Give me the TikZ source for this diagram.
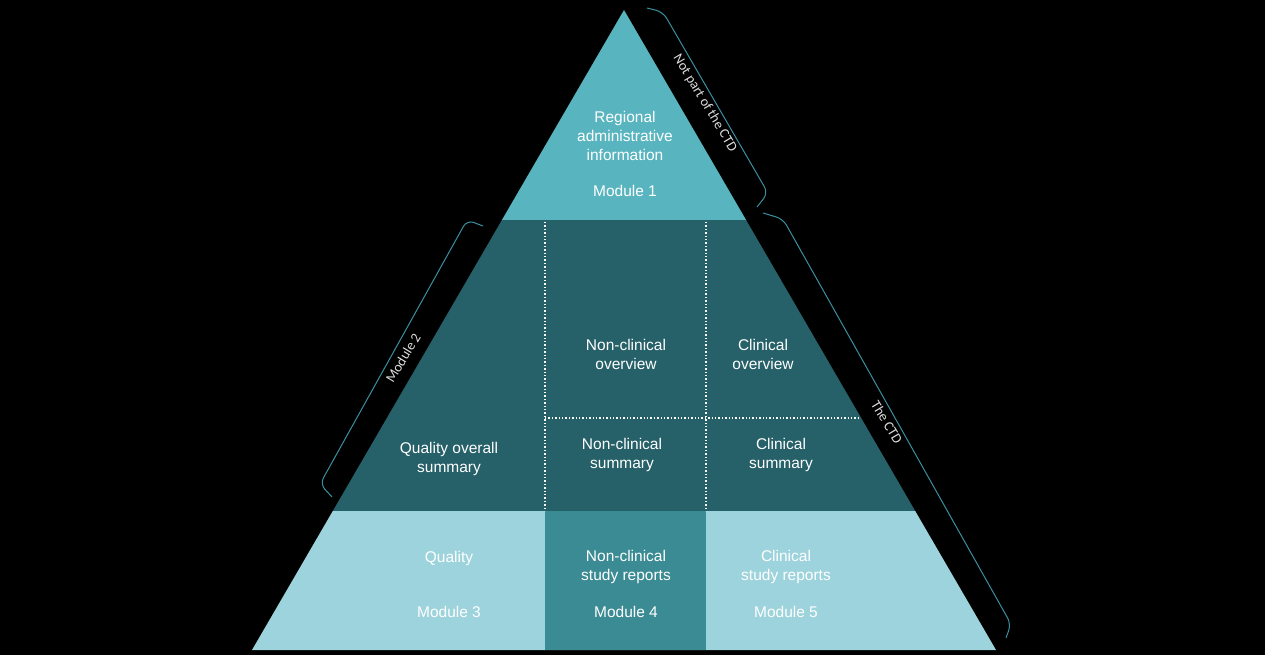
\documentclass[tikz,border=0pt]{standalone}
\usepackage{fontspec}
\setmainfont{Liberation Sans}
\newfontfamily\brfont{Carlito}
\definecolor{mone}{HTML}{58B5C0}
\definecolor{mtwo}{HTML}{266068}
\definecolor{mlight}{HTML}{9DD3DC}
\definecolor{mfour}{HTML}{3A8B93}
\definecolor{brcol}{HTML}{3B8FA0}
\definecolor{brtext}{HTML}{DDDDDD}
\begin{document}
\begin{tikzpicture}[x=1pt,y=-1pt,
  lbl/.style={text=white,align=center,font=\fontsize{15.5}{19}\selectfont,inner sep=0pt},
  brlbl/.style={text=brtext,font=\brfont\fontsize{14}{16}\selectfont,inner sep=0pt},
  bracket/.style={draw=brcol,line width=1pt,rounded corners=7pt},
  divider/.style={draw=white,line width=1.4pt,dotted}]
\fill[black] (0,0) rectangle (1265,655);
\useasboundingbox (0,0) rectangle (1265,655);
% pyramid
\coordinate (apex) at (624,10);
\coordinate (l1) at (501.9,220);
\coordinate (r1) at (746.1,220);
\coordinate (l2) at (332.8,511);
\coordinate (r2) at (915.2,511);
\coordinate (l3) at (252,650);
\coordinate (r3) at (996,650);
\fill[mone] (apex) -- (r1) -- (l1) -- cycle;
\fill[mtwo] (l1) -- (r1) -- (r2) -- (l2) -- cycle;
\fill[mlight] (l2) -- (r2) -- (r3) -- (l3) -- cycle;
\fill[mfour] (545,511) rectangle (706,650);
% dividers
\coordinate (va1) at (545,222);
\coordinate (va2) at (545,511);
\coordinate (vb1) at (706,222);
\coordinate (vb2) at (706,511);
\coordinate (ha1) at (545,418);
\coordinate (ha2) at (860,418);
\draw[divider] (va1) -- (va2);
\draw[divider] (vb1) -- (vb2);
\draw[divider] (ha1) -- (ha2);
% labels
\node[lbl] (m1t) at (625,136) {Regional\\administrative\\information};
\node[lbl] (m1) at (625,191) {Module 1};
\node[lbl] (nco) at (626,354) {Non-clinical\\overview};
\node[lbl] (co) at (763,354) {Clinical\\overview};
\node[lbl] (qos) at (449,459) {Quality overall\\summary};
\node[lbl] (ncs) at (622,455) {Non-clinical\\summary};
\node[lbl] (cs) at (781,455) {Clinical\\summary};
\node[lbl] (q) at (449,558) {Quality};
\node[lbl] (m3) at (449,612) {Module 3};
\node[lbl] (ncsr) at (626,567) {Non-clinical\\study reports};
\node[lbl] (m4) at (626,612) {Module 4};
\node[lbl] (csr) at (786,567) {Clinical\\study reports};
\node[lbl] (m5) at (786,612) {Module 5};
% brackets
\coordinate (ba1) at (647,8);
\coordinate (ba2) at (663,12);
\coordinate (ba3) at (768,193);
\coordinate (ba4) at (757,207);
\draw[bracket] (ba1) -- (ba2) -- (ba3) -- (ba4);
\node[brlbl,rotate=-59] (npc) at (705,103) {Not part of the CTD};
\coordinate (bb1) at (763,213);
\coordinate (bb2) at (783,219);
\coordinate (bb3) at (1011,624);
\coordinate (bb4) at (1006,638);
\draw[bracket] (bb1) -- (bb2) -- (bb3) -- (bb4);
\node[brlbl,rotate=-59] (ctd) at (887,422) {The CTD};
\coordinate (bc1) at (483,226);
\coordinate (bc2) at (467,220);
\coordinate (bc3) at (320,484);
\coordinate (bc4) at (332,497);
\draw[bracket] (bc1) -- (bc2) -- (bc3) -- (bc4);
\node[brlbl,rotate=59] (m2) at (403,358) {Module 2};
\end{tikzpicture}
\end{document}
